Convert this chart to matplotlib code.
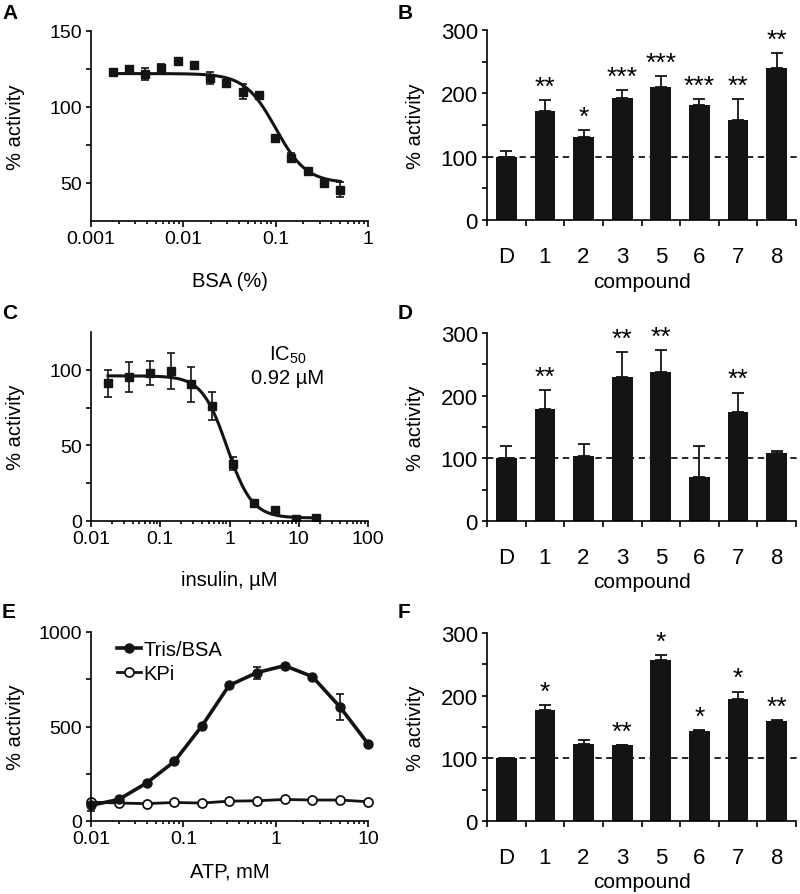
"""
Six-panel activity figure (dose-response curves and compound bar charts).
"""

import numpy as np
import matplotlib
matplotlib.use("Agg")
import matplotlib.pyplot as plt
from matplotlib.lines import Line2D
from matplotlib.ticker import FixedLocator, NullFormatter, FuncFormatter, MultipleLocator

plt.rcParams['font.family'] = ['Liberation Sans', 'DejaVu Sans']
plt.rcParams['mathtext.fontset'] = 'custom'
plt.rcParams['mathtext.rm'] = 'Liberation Sans'

# panel A: BSA titration
bsa_x = [0.00171, 0.00257, 0.00385, 0.00578, 0.00867, 0.013, 0.0195, 0.0293,
         0.0439, 0.0658, 0.0988, 0.148, 0.222, 0.333, 0.5]
bsa_y = [123, 125, 121.5, 125.5, 130, 127.5, 119, 116, 110, 108, 79.5, 66.5, 58, 50, 45.5]
bsa_err = [2, 1, 4, 3, 0, 0, 4, 2, 5, 0, 0, 3, 0, 0, 5]
bsa_fit = dict(top=122, bottom=50, ic50=0.1, hill=2.6)

# panel C: insulin titration
ins_x = [0.0176, 0.0352, 0.0703, 0.141, 0.281, 0.5625, 1.125, 2.25, 4.5, 9, 18]
ins_y = [91, 95, 98, 99, 90.5, 76, 38, 12, 7.5, 1.5, 2]
ins_err = [9, 10, 8, 12, 11.5, 9, 4, 1, 1, 1, 1]
ins_fit = dict(top=96, bottom=2, ic50=0.92, hill=2.4)

# panel E: ATP titration
atp_x = [0.01, 0.02, 0.04, 0.08, 0.16, 0.3125, 0.625, 1.25, 2.5, 5, 10]
tris_y = [83, 114, 201, 315, 505, 717, 785, 822, 764, 602, 409]
tris_err = [30, 0, 0, 0, 0, 0, 32, 0, 0, 70, 0]
kpi_y = [100, 95, 92, 98, 95, 105, 107, 114, 111, 111, 102]

# bar panels
compounds = ['D', '1', '2', '3', '5', '6', '7', '8']

b_vals = [100, 172.5, 130.5, 192.5, 209.5, 181.5, 158.5, 239.5]
b_err = [9.5, 17, 11.5, 13, 18, 9, 32, 24]
b_stars = ['', '**', '*', '***', '***', '***', '**', '**']

d_vals = [100, 178.5, 104, 229, 237, 70, 174, 108]
d_err = [19, 30, 19, 40, 36, 50, 31, 3.5]
d_stars = ['', '**', '', '**', '**', '', '**', '']

f_vals = [100, 176.5, 123.5, 120.5, 257.5, 143, 194.5, 160]
f_err = [0, 8, 6.5, 0.5, 7, 2, 12, 1]
f_stars = ['', '*', '', '**', '*', '*', '*', '**']

TICK_L = 14      # tick labels, curve panels
TICK_B = 16      # tick labels, bar panels
LAB = 14.5
INK = '#141414'
W, H = 800, 895


def four_pl(x, top, bottom, ic50, hill):
    """ Four parameter logistic curve. """
    return bottom + (top - bottom) / (1 + (x / ic50) ** hill)


def make_axes(fig, left, top, right, bottom):
    """ Axes from pixel box. """
    return fig.add_axes([left / W, (H - bottom) / H, (right - left) / W, (bottom - top) / H])


def style(ax, xlab_off, h_px, ylab_x, tsize):
    """ Common look. """
    for s in ['top', 'right']:
        ax.spines[s].set_visible(False)
    for s in ['left', 'bottom']:
        ax.spines[s].set_linewidth(1.2)
    ax.tick_params(axis='both', which='both', direction='out', width=1.2, labelsize=tsize)
    ax.tick_params(axis='y', which='both', length=3.5, pad=3)
    ax.set_ylabel('% activity', fontsize=LAB)
    ax.yaxis.set_label_coords(ylab_x, 0.5)
    ax.xaxis.set_label_coords(0.5, -xlab_off / h_px)


def log_x(ax, lo, hi):
    """ Log x axis with plain decimal labels. """
    ax.set_xscale('log')
    ax.set_xlim(lo, hi)
    ax.xaxis.set_major_formatter(FuncFormatter(lambda v, p: '%g' % v))
    ax.xaxis.set_minor_formatter(NullFormatter())
    ax.tick_params(axis='x', which='major', length=4, pad=2.5)
    ax.tick_params(axis='x', which='minor', length=2.5)


def bar_panel(ax, vals, err, stars):
    x = np.arange(len(compounds))
    ax.bar(x, vals, width=0.54, color=INK, zorder=2)
    ax.errorbar(x, vals, yerr=[np.zeros(len(err)), err], fmt='none', ecolor=INK,
                elinewidth=1.3, capsize=4, capthick=1.3, zorder=1)
    ax.axhline(100, color=INK, lw=1.3, ls=(0, (3.5, 2.5)), zorder=3, clip_on=False,
               xmax=1.01)
    for xi, v, e, s in zip(x, vals, err, stars):
        if s:
            ax.text(xi, v + e + 2, s, ha='center', va='bottom', fontsize=19,
                    clip_on=False)
    ax.set_xlim(-0.5, len(compounds) - 0.5)
    ax.set_ylim(0, 300)
    ax.yaxis.set_major_locator(MultipleLocator(100))
    ax.yaxis.set_minor_locator(MultipleLocator(50))
    ax.xaxis.set_major_locator(FixedLocator(np.arange(-0.5, len(compounds), 1.0)))
    ax.xaxis.set_major_formatter(NullFormatter())
    ax.xaxis.set_minor_locator(FixedLocator(x))
    ax.set_xticklabels(compounds, minor=True)
    ax.tick_params(axis='x', which='major', length=4)
    ax.tick_params(axis='x', which='minor', length=0, pad=19)
    ax.set_xlabel('compound', fontsize=LAB + 0.5, va='center')


fig = plt.figure(figsize=(W / 100, H / 100), dpi=100)

# A
axA = make_axes(fig, 91, 32, 368, 222)
xs = np.logspace(np.log10(0.0017), np.log10(0.5), 300)
axA.plot(xs, four_pl(xs, **bsa_fit), color=INK, lw=2.2)
axA.errorbar(bsa_x, bsa_y, yerr=bsa_err, fmt='s', color=INK, ms=6,
             elinewidth=1.2, capsize=3, capthick=1.2)
log_x(axA, 0.001, 1)
axA.set_ylim(25, 150)
axA.yaxis.set_major_locator(FixedLocator([50, 100, 150]))
axA.yaxis.set_minor_locator(FixedLocator([75, 125]))
axA.set_xlabel('BSA (%)', fontsize=LAB, va='center')
style(axA, 60, 190, -0.24, TICK_L)

# B
axB = make_axes(fig, 487, 31, 796, 221)
bar_panel(axB, b_vals, b_err, b_stars)
style(axB, 61, 190, -0.2, TICK_B)

# C
axC = make_axes(fig, 91, 333, 368, 522)
xs = np.logspace(np.log10(0.0176), np.log10(18), 300)
axC.plot(xs, four_pl(xs, **ins_fit), color=INK, lw=2.2)
axC.errorbar(ins_x, ins_y, yerr=ins_err, fmt='s', color=INK, ms=6,
             elinewidth=1.2, capsize=3, capthick=1.2)
log_x(axC, 0.01, 100)
axC.set_ylim(0, 125)
axC.yaxis.set_major_locator(FixedLocator([0, 50, 100]))
axC.yaxis.set_minor_locator(FixedLocator([25, 75]))
axC.text(0.71, 0.88, 'IC$_{50}$', transform=axC.transAxes, ha='center', va='center', fontsize=LAB)
axC.text(0.71, 0.76, '0.92 µM', transform=axC.transAxes, ha='center', va='center', fontsize=LAB)
axC.set_xlabel('insulin, µM', fontsize=LAB, va='center')
style(axC, 58, 189, -0.24, TICK_L)

# D
axD = make_axes(fig, 487, 334, 796, 522)
bar_panel(axD, d_vals, d_err, d_stars)
style(axD, 61, 188, -0.2, TICK_B)

# E
axE = make_axes(fig, 91, 633, 368, 822)
axE.errorbar(atp_x, tris_y, yerr=tris_err, fmt='-o', color=INK, ms=6.5, lw=2.6,
             elinewidth=1.2, capsize=3, capthick=1.2, clip_on=False)
axE.plot(atp_x, kpi_y, '-o', color=INK, mfc='white', mew=1.3, ms=6.5, lw=2,
         clip_on=False)
log_x(axE, 0.01, 10)
axE.set_ylim(0, 1000)
axE.yaxis.set_major_locator(FixedLocator([0, 500, 1000]))
axE.yaxis.set_minor_locator(FixedLocator([250, 750]))
handles = [Line2D([], [], color=INK, marker='o', ms=6.5, lw=2.6),
           Line2D([], [], color=INK, marker='o', mfc='white', mew=1.3, ms=6.5, lw=2)]
axE.legend(handles, ['Tris/BSA', 'KPi'], loc='upper left', frameon=False, fontsize=LAB,
           handlelength=1.2, handletextpad=0.1, labelspacing=0.25, borderaxespad=0.2,
           bbox_to_anchor=(0.05, 1.02))
axE.set_xlabel('ATP, mM', fontsize=LAB, va='center')
style(axE, 50, 189, -0.24, TICK_L)

# F
axF = make_axes(fig, 487, 634, 796, 822)
bar_panel(axF, f_vals, f_err, f_stars)
style(axF, 61, 188, -0.2, TICK_B)

# panel letters
for letter, px, py in [('A', 2, 4), ('B', 398, 4), ('C', 2, 304), ('D', 398, 304),
                       ('E', 2, 603), ('F', 398, 603)]:
    fig.text(px / W, 1 - py / H, letter, fontsize=15, fontweight='bold', ha='left', va='top')

fig.savefig('out.png', dpi=100)
